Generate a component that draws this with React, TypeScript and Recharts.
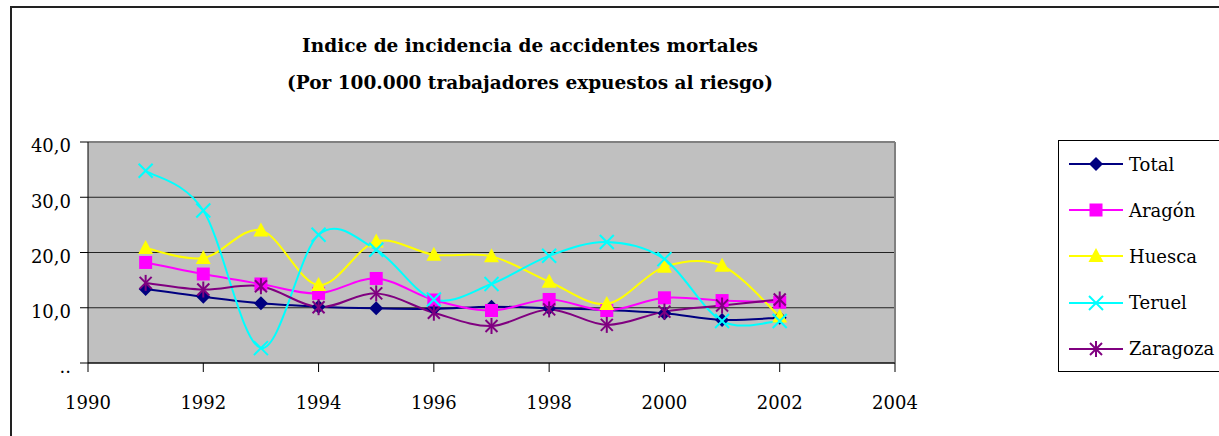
import React from 'react'
import { LineChart, Line, XAxis, YAxis, CartesianGrid, ReferenceLine, Legend } from 'recharts'

const years = [1991, 1992, 1993, 1994, 1995, 1996, 1997, 1998, 1999, 2000, 2001, 2002]
const total = [13.4, 12.0, 10.8, 10.2, 9.9, 9.8, 10.2, 9.9, 9.6, 9.0, 7.8, 8.2]
const aragon = [18.2, 16.1, 14.3, 12.6, 15.3, 11.4, 9.5, 11.5, 9.5, 11.8, 11.3, 11.0]
const huesca = [20.8, 19.0, 24.0, 14.1, 22.0, 19.6, 19.3, 14.7, 10.7, 17.4, 17.6, 8.4]
const teruel = [34.8, 27.6, 2.7, 23.2, 20.5, 11.5, 14.3, 19.4, 21.9, 18.8, 7.6, 7.6]
const zaragoza = [14.5, 13.3, 13.9, 10.1, 12.6, 9.1, 6.7, 9.7, 6.9, 9.3, 10.4, 11.5]

const xTicks = [1990, 1992, 1994, 1996, 1998, 2000, 2002, 2004]
const yTicks = [0, 10, 20, 30, 40]

const SERIES = [
  { key: 'total', name: 'Total', color: '#000080', shape: 'diamond', values: total },
  { key: 'aragon', name: 'Aragón', color: '#FF00FF', shape: 'square', values: aragon },
  { key: 'huesca', name: 'Huesca', color: '#FFFF00', shape: 'triangle', values: huesca },
  { key: 'teruel', name: 'Teruel', color: '#00FFFF', shape: 'cross', values: teruel },
  { key: 'zaragoza', name: 'Zaragoza', color: '#800080', shape: 'star', values: zaragoza },
]

const data = years.map((year, i) => {
  const row: Record<string, number> = { year }
  SERIES.forEach((s) => (row[s.key] = s.values[i]))
  return row
})

const FONT = "'DejaVu Serif', 'Liberation Serif', serif"

// Excel-like smoothed line (Catmull-Rom through the points)
function excelSmooth(context: any) {
  let pts: [number, number][] = []
  return {
    areaStart() {},
    areaEnd() {},
    lineStart() {
      pts = []
    },
    point(x: number, y: number) {
      pts.push([+x, +y])
    },
    lineEnd() {
      if (!pts.length) return
      context.moveTo(pts[0][0], pts[0][1])
      for (let i = 0; i < pts.length - 1; i++) {
        const p0 = pts[i - 1] || pts[i]
        const p1 = pts[i]
        const p2 = pts[i + 1]
        const p3 = pts[i + 2] || p2
        context.bezierCurveTo(
          p1[0] + (p2[0] - p0[0]) / 6,
          p1[1] + (p2[1] - p0[1]) / 6,
          p2[0] - (p3[0] - p1[0]) / 6,
          p2[1] - (p3[1] - p1[1]) / 6,
          p2[0],
          p2[1]
        )
      }
    },
  }
}

function Marker({ shape, color, cx, cy }: { shape: string; color: string; cx: number; cy: number }) {
  if (shape === 'diamond') {
    return <polygon points={`${cx},${cy - 7} ${cx + 7},${cy} ${cx},${cy + 7} ${cx - 7},${cy}`} fill={color} />
  }
  if (shape === 'square') {
    return <rect x={cx - 6.5} y={cy - 6.5} width={13} height={13} fill={color} />
  }
  if (shape === 'triangle') {
    return <polygon points={`${cx},${cy - 8} ${cx + 7.5},${cy + 6} ${cx - 7.5},${cy + 6}`} fill={color} />
  }
  if (shape === 'cross') {
    return (
      <g stroke={color} strokeWidth={2}>
        <line x1={cx - 7} y1={cy - 7} x2={cx + 7} y2={cy + 7} />
        <line x1={cx - 7} y1={cy + 7} x2={cx + 7} y2={cy - 7} />
      </g>
    )
  }
  return (
    <g stroke={color} strokeWidth={2}>
      <line x1={cx - 6} y1={cy - 6} x2={cx + 6} y2={cy + 6} />
      <line x1={cx - 6} y1={cy + 6} x2={cx + 6} y2={cy - 6} />
      <line x1={cx} y1={cy - 8} x2={cx} y2={cy + 8} />
    </g>
  )
}

function LegendBox() {
  return (
    <div
      style={{
        width: 170,
        height: 232,
        border: '1.5px solid #000',
        background: '#fff',
        fontFamily: FONT,
        fontSize: 18,
        boxSizing: 'border-box',
      }}
    >
      {SERIES.map((s, i) => (
        <div key={s.key} style={{ position: 'absolute', left: 10, top: 11 + i * 46.2, height: 26, display: 'flex', alignItems: 'center' }}>
          <svg width={56} height={26}>
            <line x1={1} y1={13} x2={55} y2={13} stroke={s.color} strokeWidth={2} />
            <Marker shape={s.shape} color={s.color} cx={28} cy={13} />
          </svg>
          <span style={{ marginLeft: 5, color: '#000' }}>{s.name}</span>
        </div>
      ))}
    </div>
  )
}

const fmtY = (v: number) => (v === 0 ? '..' : v.toFixed(1).replace('.', ','))

export default function App() {
  return (
    <div style={{ position: 'absolute', left: 0, top: 0, width: 1219, height: 436, overflow: 'hidden', background: '#fff' }}>
      <div
        style={{
          position: 'absolute',
          left: 10,
          top: 6,
          width: 1300,
          height: 500,
          borderLeft: '2px solid #222',
          borderTop: '2px solid #222',
        }}
      />
      <div
        style={{
          position: 'absolute',
          left: 230,
          width: 600,
          top: 27,
          textAlign: 'center',
          fontFamily: FONT,
          fontWeight: 'bold',
          fontSize: 18.5,
          lineHeight: '37px',
          color: '#000',
        }}
      >
        Indice de incidencia de accidentes mortales
        <br />
        (Por 100.000 trabajadores expuestos al riesgo)
      </div>
      <div style={{ position: 'absolute', left: 0, top: 0 }}>
        <LineChart width={1219} height={436} data={data} margin={{ top: 142, right: 324, bottom: 23, left: 10 }}>
          <CartesianGrid vertical={false} fill="#C0C0C0" stroke="#222" strokeWidth={1.2} />
          <XAxis
            dataKey="year"
            type="number"
            domain={[1990, 2004]}
            ticks={xTicks}
            height={50}
            tickSize={9}
            stroke="#000"
            tick={{ fill: '#000', fontFamily: FONT, fontSize: 18, dy: 22 }}
          />
          <YAxis
            domain={[0, 40]}
            ticks={yTicks}
            width={78}
            tickSize={8}
            stroke="#000"
            tickFormatter={fmtY}
            tick={{ fill: '#000', fontFamily: FONT, fontSize: 18, dx: -7, dy: 4 }}
          />
          <ReferenceLine y={40} stroke="#808080" strokeWidth={2} />
          <ReferenceLine x={2004} stroke="#808080" strokeWidth={2} />
          {SERIES.map((s) => (
            <Line
              key={s.key}
              dataKey={s.key}
              name={s.name}
              type={excelSmooth as any}
              stroke={s.color}
              strokeWidth={2}
              isAnimationActive={false}
              dot={(p: any) => (
                <g key={`${s.key}-${p.index}`}>
                  <Marker shape={s.shape} color={s.color} cx={p.cx} cy={p.cy} />
                </g>
              )}
              activeDot={false}
            />
          ))}
          <Legend
            layout="vertical"
            align="center"
            verticalAlign="middle"
            content={() => <LegendBox />}
            wrapperStyle={{ position: 'absolute', left: 1058, top: 140, width: 170, height: 232 }}
          />
        </LineChart>
      </div>
    </div>
  )
}
